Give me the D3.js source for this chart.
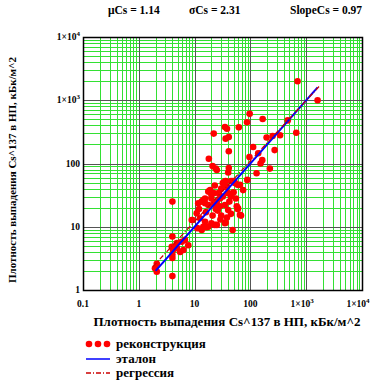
<!DOCTYPE html>
<html>
<head>
<meta charset="utf-8">
<script src="https://cdn.jsdelivr.net/npm/d3@7"></script>
<style>
  body { margin: 0; background: #fff; }
  text { font-family: "Liberation Serif", "DejaVu Serif", serif; font-weight: bold; fill: #000; }
</style>
</head>
<body>
<script>
var width = 390;
var height = 385;

// reconstructed vs reference points (kBq/m^2)
var reconX = [700, 1600, 97, 87, 166, 62, 35, 38, 22, 36, 41, 195, 250, 340, 467, 663,
  41, 112, 272, 18, 96, 163, 152, 21, 24, 41, 223, 129, 88, 36, 49, 23, 65, 138, 40, 25,
  45, 52, 32, 35, 59, 74, 18, 22, 57, 59, 68, 36, 48, 4, 9.2, 14.3, 16.5, 23, 4, 4, 4,
  17.6, 11.6, 13.4, 15.4, 20, 23, 28.5, 35, 40, 10.9, 8.9, 12.5, 15.4, 17.6, 20, 25, 35,
  11.2, 13.4, 4.8, 5.9, 6.7, 3.9, 4.1, 4.8, 5.5, 6.3, 7.7, 4.0, 2.1, 1.95, 2.1, 60, 65,
  35, 38, 53, 19, 20, 27, 14.3, 15.4, 17.6, 22, 25, 28.5, 32, 40, 30, 45, 50, 42, 55, 26,
  30, 38, 45, 12, 16, 21, 24, 29];
var reconY = [2000, 1000, 610, 450, 505, 373, 378, 355, 297, 247, 262, 258, 272, 280, 480, 307,
  156, 182, 163, 119, 127, 113, 100, 91, 83, 85, 83, 70, 55, 53, 53, 45, 46, 145, 72, 79,
  53, 50, 49, 43, 46, 38, 36, 34, 21, 19, 15, 11.6, 8.9, 25, 12.8, 10, 9.8, 10.7, 7, 3.6, 1.66,
  36, 23.5, 25, 28, 28, 23.5, 21, 22, 18.4, 16.3, 12.8, 13.6, 12, 10, 11.3, 10.7, 11.4,
  9.5, 8.9, 5.5, 5.8, 6.2, 4.8, 4.3, 4.6, 4.0, 4.3, 5.1, 3.2, 2.6, 2.2, 1.95, 19.6, 15.4,
  52, 43, 49, 38, 32, 34, 26.5, 23.5, 22, 23.5, 25, 28, 30, 34, 40, 30, 35, 25, 28, 18,
  15, 14, 16, 19, 17, 15, 19, 13];

// etalon y = x and regression line end points
var etalonX = [2, 1600];
var etalonY = [2, 1600];
var regrX = [1.8, 1700];
var regrY = [2.35, 1650];

var statLabels = ["\u03bcCs = 1.14", "\u03c3Cs = 2.31", "SlopeCs = 0.97"];
var xTicks = [0.1, 1, 10, 100, 1000, 10000];
var yTicks = [1, 10, 100, 1000, 10000];
var legendLabels = ["\u0440\u0435\u043a\u043e\u043d\u0441\u0442\u0440\u0443\u043a\u0446\u0438\u044f", "\u044d\u0442\u0430\u043b\u043e\u043d", "\u0440\u0435\u0433\u0440\u0435\u0441\u0441\u0438\u044f"];
var axisTitle = "\u041f\u043b\u043e\u0442\u043d\u043e\u0441\u0442\u044c \u0432\u044b\u043f\u0430\u0434\u0435\u043d\u0438\u044f Cs^137 \u0432 \u041d\u041f, \u043a\u0411\u043a/\u043c^2";

var pLeft = 83, pRight = 362, pTop = 37, pBottom = 290;

var x = d3.scaleLog().domain([0.1, 10000]).range([pLeft, pRight]);
var y = d3.scaleLog().domain([1, 10000]).range([pBottom, pTop]);

var svg = d3.select("body")
  .append("svg")
  .attr("width", width)
  .attr("height", height);

// minor grid (2..9 in each decade)
var minorX = [], minorY = [];
for (var e = -1; e < 4; e++) {
  for (var m = 2; m < 10; m++) minorX.push(m * Math.pow(10, e));
}
for (var e = 0; e < 4; e++) {
  for (var m = 2; m < 10; m++) minorY.push(m * Math.pow(10, e));
}

var grid = svg.append("g");
grid.selectAll(".gx").data(minorX).enter().append("line")
  .attr("x1", function(d) { return Math.round(x(d)) + 0.5; })
  .attr("x2", function(d) { return Math.round(x(d)) + 0.5; })
  .attr("y1", pTop).attr("y2", pBottom)
  .style("stroke", "#33e033").style("stroke-width", 1);
grid.selectAll(".gy").data(minorY).enter().append("line")
  .attr("y1", function(d) { return Math.round(y(d)) + 0.5; })
  .attr("y2", function(d) { return Math.round(y(d)) + 0.5; })
  .attr("x1", pLeft).attr("x2", pRight)
  .style("stroke", "#33e033").style("stroke-width", 1);

// decade lines
grid.selectAll(".mx").data(xTicks).enter().append("line")
  .attr("x1", function(d) { return Math.round(x(d)) + 0.5; })
  .attr("x2", function(d) { return Math.round(x(d)) + 0.5; })
  .attr("y1", pTop).attr("y2", pBottom)
  .style("stroke", "#555").style("stroke-width", 1);
grid.selectAll(".my").data(yTicks).enter().append("line")
  .attr("y1", function(d) { return Math.round(y(d)) + 0.5; })
  .attr("y2", function(d) { return Math.round(y(d)) + 0.5; })
  .attr("x1", pLeft).attr("x2", pRight)
  .style("stroke", "#555").style("stroke-width", 1);

// frame
svg.append("rect")
  .attr("x", pLeft + 0.5).attr("y", pTop + 0.5)
  .attr("width", pRight - pLeft).attr("height", pBottom - pTop)
  .style("fill", "none").style("stroke", "#000").style("stroke-width", 1.5);

// points
var pts = reconX.map(function(d, i) { return [d, reconY[i]]; });
svg.append("g").selectAll("circle")
  .data(pts)
  .enter()
  .append("circle")
  .attr("cx", function(d) { return x(d[0]); })
  .attr("cy", function(d) { return y(d[1]); })
  .attr("r", 3.3)
  .style("fill", "#ff0000");

var line = d3.line()
  .x(function(d) { return x(d[0]); })
  .y(function(d) { return y(d[1]); });

svg.append("path")
  .datum(etalonX.map(function(d, i) { return [d, etalonY[i]]; }))
  .attr("d", line)
  .style("fill", "none").style("stroke", "#0000ff").style("stroke-width", 2);

svg.append("path")
  .datum(regrX.map(function(d, i) { return [d, regrY[i]]; }))
  .attr("d", line)
  .style("fill", "none").style("stroke", "#cc0000").style("stroke-width", 1.2)
  .style("stroke-dasharray", "5,2,1,2");

// tick labels
function tickText(sel, v) {
  if (v >= 1000) {
    sel.append("tspan").text("1\u00d710");
    sel.append("tspan").attr("dy", -4).style("font-size", "7px").text(Math.round(Math.log10(v)));
  } else {
    sel.text(v);
  }
}

svg.selectAll(".yt").data(yTicks).enter().append("text")
  .attr("x", 80)
  .attr("y", function(d) { return y(d) + 3; })
  .attr("text-anchor", "end")
  .style("font-size", "9.5px")
  .each(function(d) { tickText(d3.select(this), d); });

svg.selectAll(".xt").data(xTicks).enter().append("text")
  .attr("x", function(d) { return d >= 1000 ? x(d) - 4 : x(d); })
  .attr("y", 307)
  .attr("text-anchor", "middle")
  .style("font-size", "9.5px")
  .each(function(d) { tickText(d3.select(this), d); });

// stats at top
var statX = [108, 189, 290];
svg.selectAll(".st").data(statLabels).enter().append("text")
  .attr("x", function(d, i) { return statX[i]; })
  .attr("y", 14)
  .style("font-size", "11.5px")
  .text(function(d) { return d; });

// axis titles
svg.append("text")
  .attr("x", 227).attr("y", 326)
  .attr("text-anchor", "middle")
  .style("font-size", "13px")
  .text(axisTitle);

svg.append("text")
  .attr("transform", "translate(16,170) rotate(-90)")
  .attr("text-anchor", "middle")
  .style("font-size", "11px")
  .text(axisTitle);

// legend
var leg = svg.append("g");
[89, 98, 107].forEach(function(cx) {
  leg.append("circle").attr("cx", cx).attr("cy", 344).attr("r", 3.3).style("fill", "#ff0000");
});
leg.append("line").attr("x1", 86).attr("x2", 110).attr("y1", 359).attr("y2", 359)
  .style("stroke", "#0000ff").style("stroke-width", 1.5);
leg.append("line").attr("x1", 86).attr("x2", 110).attr("y1", 373).attr("y2", 373)
  .style("stroke", "#cc0000").style("stroke-width", 1.3).style("stroke-dasharray", "5,2,1,2");
leg.selectAll(".lt").data(legendLabels).enter().append("text")
  .attr("x", 116)
  .attr("y", function(d, i) { return 348 + i * 14.5; })
  .style("font-size", "13px")
  .text(function(d) { return d; });
</script>
</body>
</html>
